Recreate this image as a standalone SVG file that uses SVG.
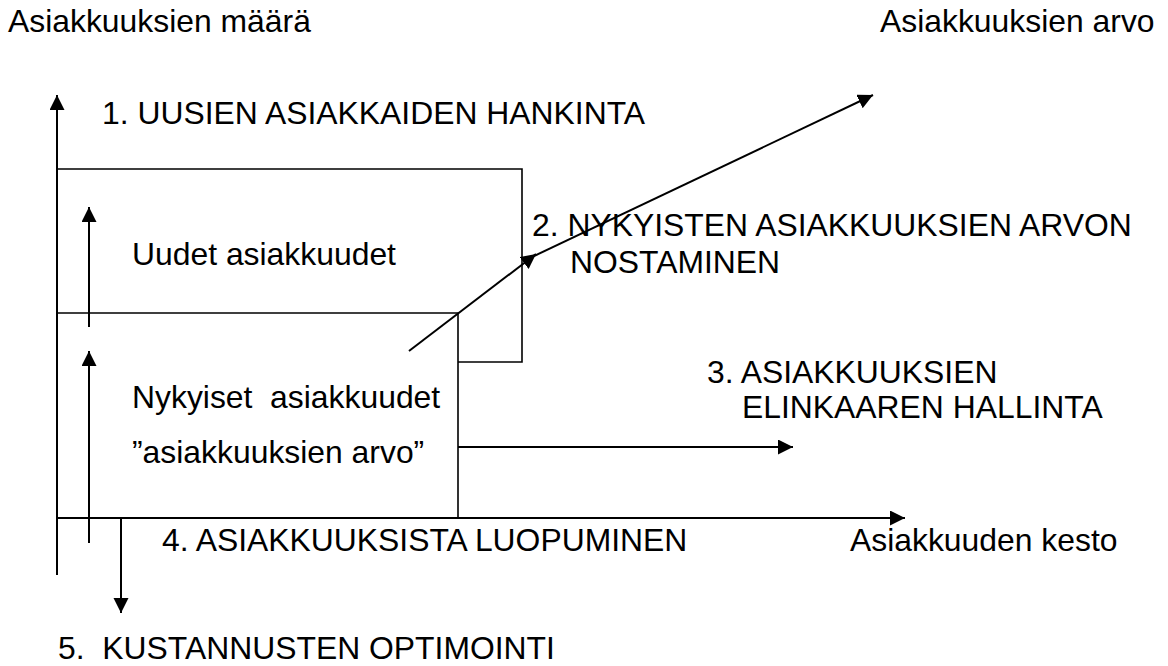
<svg xmlns="http://www.w3.org/2000/svg" width="1168" height="666" viewBox="0 0 1168 666">
  <style>
    .ln { stroke: #000; stroke-width: 2; fill: none; }
    .thin { stroke: #000; stroke-width: 1.6; fill: none; }
    .arr { marker-end: url(#head); }
    text { font-family: "Liberation Sans", Arial, sans-serif; font-size: 30.5px; fill: #000; }
  </style>
  <defs>
    <marker id="head" markerUnits="userSpaceOnUse" markerWidth="16" markerHeight="16" refX="15" refY="7.5" orient="auto">
      <path d="M0,0 L15,7.5 L0,15 Z" fill="#000"/>
    </marker>
  </defs>

  <!-- axis titles -->
  <g id="title-count"><text transform="translate(8,32) scale(1.045,1)">Asiakkuuksien määrä</text></g>
  <g id="title-value"><text transform="translate(880,32) scale(1.045,1)">Asiakkuuksien arvo</text></g>

  <!-- customer blocks -->
  <g id="new-customers">
    <polyline class="thin" points="57,169 522,169 522,362 458,362"/>
    <text transform="translate(132,265) scale(1.045,1)">Uudet asiakkuudet</text>
  </g>
  <g id="current-customers">
    <polyline class="thin" points="57,313 458,313 458,518"/>
    <text transform="translate(132,408) scale(1.045,1)" xml:space="preserve">Nykyiset  asiakkuudet</text>
    <text transform="translate(132,463) scale(1.045,1)">”asiakkuuksien arvo”</text>
  </g>

  <!-- strategy labels -->
  <g id="step-1"><text transform="translate(102,124) scale(1.045,1)">1. UUSIEN ASIAKKAIDEN HANKINTA</text></g>
  <g id="step-2">
    <text transform="translate(532,236) scale(1.045,1)">2. NYKYISTEN ASIAKKUUKSIEN ARVON</text>
    <text transform="translate(570,273) scale(1.045,1)">NOSTAMINEN</text>
  </g>
  <g id="step-3">
    <text transform="translate(707,383) scale(1.045,1)">3. ASIAKKUUKSIEN</text>
    <text transform="translate(742,418) scale(1.045,1)">ELINKAAREN HALLINTA</text>
  </g>
  <g id="step-4"><text transform="translate(162,551) scale(1.045,1)">4. ASIAKKUUKSISTA LUOPUMINEN</text></g>
  <g id="duration"><text transform="translate(850,551) scale(1.045,1)">Asiakkuuden kesto</text></g>
  <g id="step-5"><text transform="translate(58,659) scale(1.045,1)" xml:space="preserve">5.  KUSTANNUSTEN OPTIMOINTI</text></g>

  <!-- connectors -->
  <g id="connectors">
    <line class="ln arr" x1="57" y1="575" x2="57" y2="95"/>
    <line class="ln arr" x1="57" y1="518" x2="905" y2="518"/>
    <line class="ln arr" x1="89" y1="327" x2="89" y2="207"/>
    <line class="ln arr" x1="89" y1="543" x2="89" y2="351"/>
    <line class="ln arr" x1="121" y1="518" x2="121" y2="613"/>
    <line class="ln arr" x1="458" y1="447" x2="793" y2="447"/>
    <line class="ln arr" x1="409" y1="351" x2="536" y2="254"/>
    <line class="ln arr" x1="532" y1="257" x2="873" y2="95"/>
  </g>
</svg>
